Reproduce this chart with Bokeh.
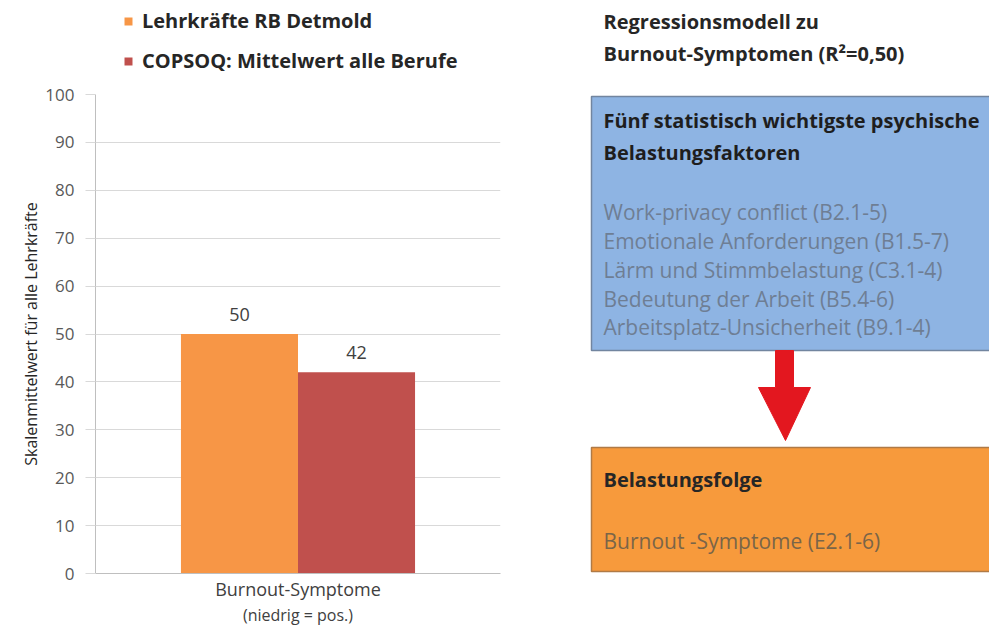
from bokeh.plotting import figure
from bokeh.models import (ColumnDataSource, FactorRange, Range1d, Legend, LegendItem,
                          FixedTicker, LabelSet)
from bokeh.transform import dodge
from bokeh.layouts import row, column
from bokeh.core.properties import value
from bokeh.embed import file_html
from bokeh.resources import INLINE

# ---------------- data ----------------
categories = ["Burnout-Symptome"]
category_notes = ["(niedrig = pos.)"]
series_names = ["Lehrkräfte RB Detmold", "COPSOQ: Mittelwert alle Berufe"]
lehrkraefte = [50]
copsoq = [42]
y_ticks = [0, 10, 20, 30, 40, 50, 60, 70, 80, 90, 100]
y_label = "Skalenmittelwert für alle Lehrkräfte"

title_lines = ["Regressionsmodell  zu", "Burnout-Symptomen  (R²=0,50)"]
factor_heading = ["Fünf statistisch wichtigste  psychische", "Belastungsfaktoren"]
factor_items = ["Work-privacy conflict (B2.1-5)",
                "Emotionale Anforderungen (B1.5-7)",
                "Lärm und Stimmbelastung (C3.1-4)",
                "Bedeutung der Arbeit (B5.4-6)",
                "Arbeitsplatz-Unsicherheit (B9.1-4)"]
result_heading = ["Belastungsfolge"]
result_items = ["Burnout -Symptome (E2.1-6)"]

# ---------------- styles ----------------
FONT = "Open Sans"
ORANGE = "#F79646"
RED = "#C0504D"
BAR_W = 0.289

# ---------------- legend strip ----------------
leg = figure(width=522, height=78, x_range=Range1d(0, 1), y_range=Range1d(0, 1),
             x_axis_type=None, y_axis_type=None, output_backend="svg",
             toolbar_location=None, min_border=0, outline_line_color=None)
leg.grid.visible = False
proxy = ColumnDataSource(dict(x=[0.5], top=[0.0], bottom=[0.0]))
lr1 = leg.vbar(x="x", top="top", bottom="bottom", width=0.0, source=proxy,
               fill_color=ORANGE, line_color=None)
lr2 = leg.vbar(x="x", top="top", bottom="bottom", width=0.0, source=proxy,
               fill_color=RED, line_color=None)
legend = Legend(items=[LegendItem(label=series_names[0], renderers=[lr1]),
                       LegendItem(label=series_names[1], renderers=[lr2])],
                location=(28, 4), orientation="vertical",
                glyph_width=10, glyph_height=10, label_standoff=9, spacing=13,
                padding=0, margin=0, border_line_color=None, background_fill_alpha=0,
                label_text_font=FONT, label_text_font_size="20px",
                label_text_font_style="bold", label_text_color="#262626")
leg.add_layout(legend)

# ---------------- bar chart ----------------
bar = figure(width=522, height=525, x_range=FactorRange(*categories, range_padding=0),
             y_range=Range1d(0, 100), output_backend="svg", toolbar_location=None,
             min_border_left=95, min_border_right=22, min_border_top=16, min_border_bottom=30,
             outline_line_color=None)
src = ColumnDataSource(dict(cat=categories, note=category_notes,
                            lehr=lehrkraefte, cop=copsoq,
                            lehr_lbl=[str(v) for v in lehrkraefte],
                            cop_lbl=[str(v) for v in copsoq]))
bar.vbar(x=dodge("cat", -BAR_W / 2, range=bar.x_range), top="lehr", width=BAR_W,
         source=src, fill_color=ORANGE, line_color=None)
bar.vbar(x=dodge("cat", BAR_W / 2, range=bar.x_range), top="cop", width=BAR_W,
         source=src, fill_color=RED, line_color=None)
for fld, lbl, off in (("lehr", "lehr_lbl", -BAR_W / 2), ("cop", "cop_lbl", BAR_W / 2)):
    bar.add_layout(LabelSet(x=dodge("cat", off, range=bar.x_range), y=fld, text=lbl,
                            source=src, y_offset=13, text_align="center",
                            text_baseline="bottom", text_font=value(FONT),
                            text_font_size="18px", text_color="#404040"))

bar.ygrid.grid_line_color = "#D9D9D9"
bar.xgrid.grid_line_color = None
bar.yaxis.ticker = FixedTicker(ticks=y_ticks)
bar.yaxis.minor_tick_line_color = None
bar.yaxis.major_tick_in = 0
bar.yaxis.major_tick_out = 10
bar.yaxis.major_tick_line_color = "#D9D9D9"
bar.yaxis.axis_line_color = "#BFBFBF"
bar.yaxis.major_label_standoff = 11
bar.yaxis.major_label_text_font = FONT
bar.yaxis.major_label_text_font_size = "17px"
bar.yaxis.major_label_text_color = "#595959"
bar.yaxis.axis_label = y_label
bar.yaxis.axis_label_text_font = FONT
bar.yaxis.axis_label_text_font_size = "16px"
bar.yaxis.axis_label_text_font_style = "normal"
bar.yaxis.axis_label_text_color = "#262626"
bar.yaxis.axis_label_standoff = 0

bar.xaxis.axis_line_color = "#BFBFBF"
bar.xaxis.major_tick_line_color = None
bar.xaxis.major_tick_out = 0
bar.xaxis.major_tick_in = 0
bar.xaxis.major_label_standoff = 3
bar.xaxis.major_label_text_font = FONT
bar.xaxis.major_label_text_font_size = "18px"
bar.xaxis.major_label_text_color = "#404040"

# second line of the category label (own strip below the chart)
note = figure(width=522, height=22, x_range=bar.x_range, y_range=Range1d(0, 1),
              x_axis_type=None, y_axis_type=None, output_backend="svg",
              toolbar_location=None, min_border_left=95, min_border_right=22,
              min_border_top=0, min_border_bottom=0, outline_line_color=None)
note.grid.visible = False
note.text(x="cat", y=0.5, text="note", source=src, text_align="center",
          text_baseline="middle", text_font=value(FONT), text_font_size="16px",
          text_color="#404040")

# ---------------- diagram ----------------
dg = figure(width=467, height=625, x_range=Range1d(522, 989), y_range=Range1d(625, 0),
            x_axis_type=None, y_axis_type=None, output_backend="svg",
            toolbar_location=None, min_border=0, outline_line_color=None)
dg.grid.visible = False

dg.quad(left=[591], right=[1010], top=[96], bottom=[350],
        fill_color="#8EB4E3", line_color="#72859F", line_width=1.5)
dg.quad(left=[591], right=[1010], top=[447], bottom=[571],
        fill_color="#F79A3C", line_color="#B07A45", line_width=1.5)
dg.patch(x=[775, 793, 793, 810, 785, 758, 775], y=[350, 350, 387, 387, 440, 387, 387],
         fill_color="#E3171F", line_color="#E3171F", line_width=1)

def txt(lines, ys, bold, color, size):
    dg.text(x=[603] * len(lines), y=ys, text=lines, text_font=value(FONT),
            text_font_size=size, text_font_style="bold" if bold else "normal",
            text_color=color, text_baseline="middle", text_align="left")

txt(title_lines, [21, 53], True, "#262626", "20px")
txt(factor_heading, [120, 152], True, "#1E1E1E", "20px")
txt(factor_items, [211, 240, 269, 298, 326], False, "#6E7E94", "21px")
txt(result_heading, [479], True, "#262626", "20px")
txt(result_items, [540], False, "#7A6548", "21px")

layout = row(column(leg, bar, note), dg)
with open("out.html", "w", encoding="utf-8") as f:
    f.write(file_html(layout, INLINE))
